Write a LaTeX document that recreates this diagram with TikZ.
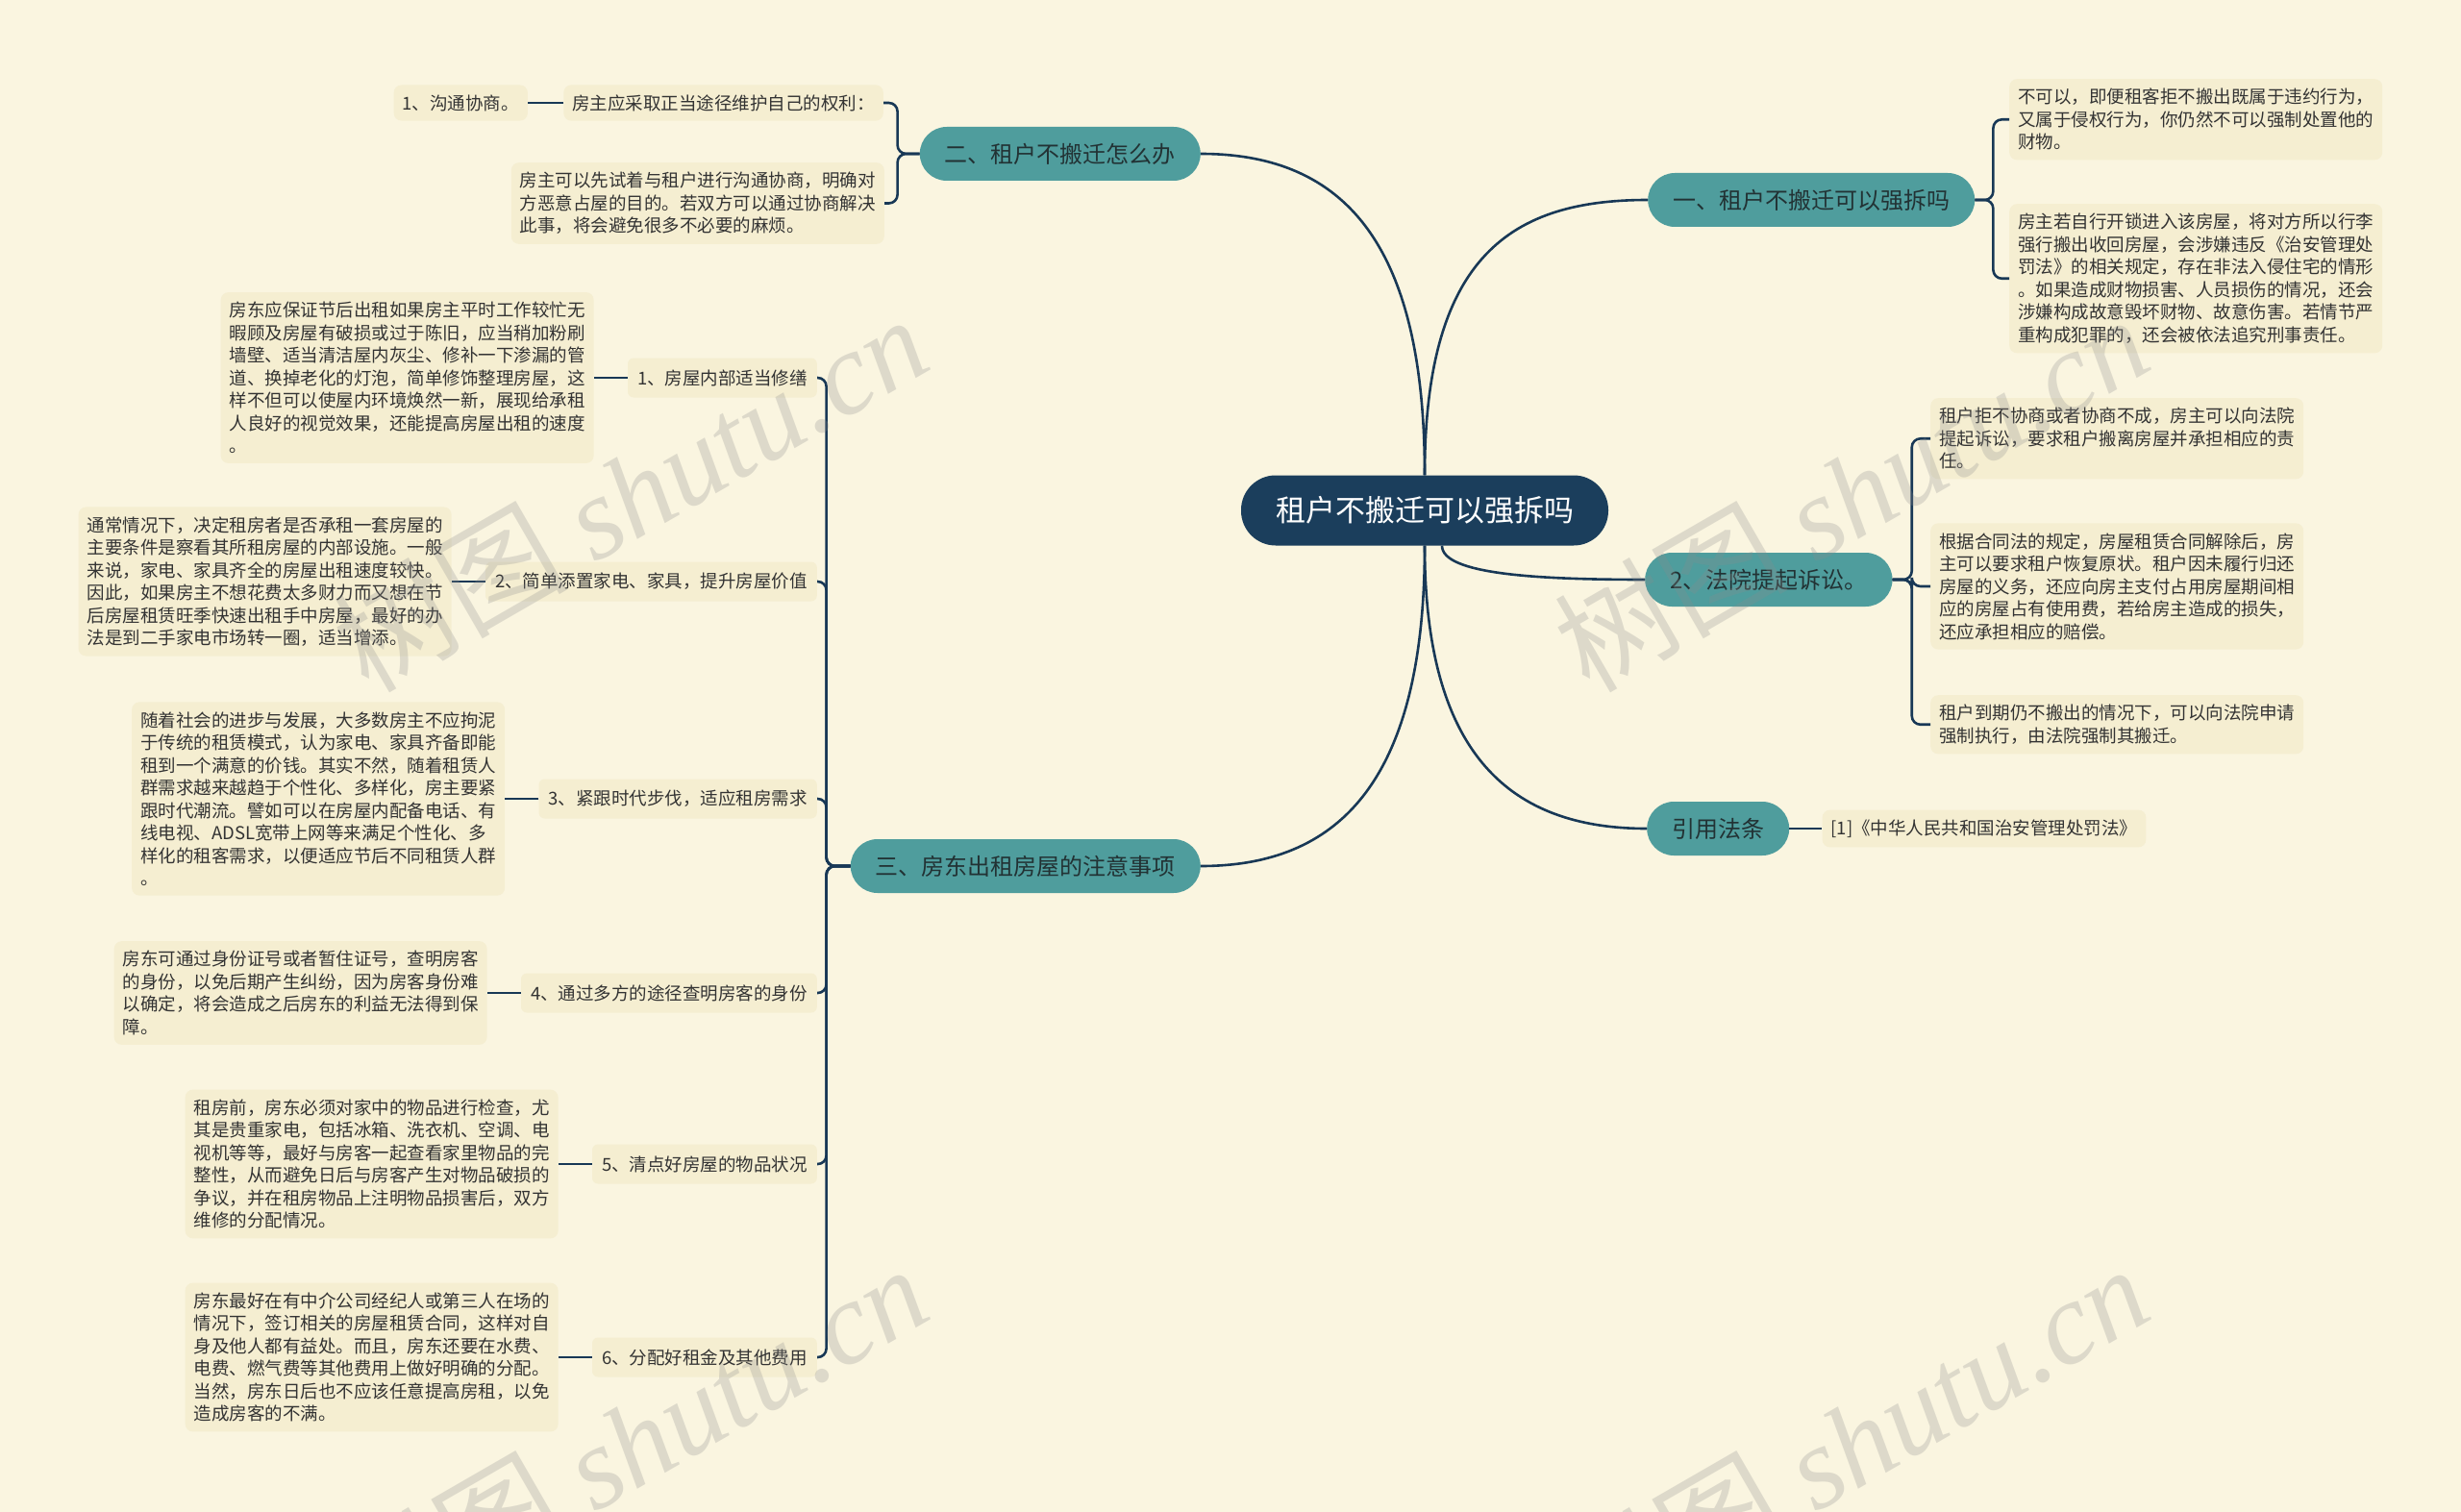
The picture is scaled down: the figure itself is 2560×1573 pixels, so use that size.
\documentclass[tikz,border=0pt]{standalone}
\usepackage{fontspec}
\setmainfont{Noto Sans CJK SC}
\newfontfamily\wmlatin{Liberation Serif}
\usetikzlibrary{positioning}
\definecolor{paper}{RGB}{250,245,224}
\definecolor{rootfill}{RGB}{27,62,92}
\definecolor{branchfill}{RGB}{79,157,157}
\definecolor{branchtext}{RGB}{34,50,52}
\definecolor{notefill}{RGB}{245,238,209}
\definecolor{notetext}{RGB}{51,51,51}
\definecolor{inkline}{RGB}{24,56,86}
\tikzset{
  root/.style   = {fill=rootfill, text=white, rounded corners=36pt,
                   font=\fontsize{31}{36}\selectfont, inner xsep=36pt,
                   minimum height=73pt},
  branch/.style = {fill=branchfill, text=branchtext, rounded corners=28pt,
                   font=\fontsize{24}{28}\selectfont, inner xsep=26pt,
                   minimum height=56pt},
  topic/.style  = {fill=notefill, text=notetext, rounded corners=6pt,
                   font=\fontsize{18.5}{23.5}\selectfont, inner xsep=10pt,
                   minimum height=41pt},
  note/.style   = {fill=notefill, text=notetext, rounded corners=8pt,
                   align=left, font=\fontsize{18.5}{23.5}\selectfont,
                   inner xsep=9pt, inner ysep=10pt},
  trunk/.style  = {draw=inkline, line width=2.6pt},
  link/.style   = {draw=inkline, line width=2.6pt, rounded corners=9pt},
  stamp/.style  = {text=black!45, opacity=0.26, rotate=30,
                   font=\fontsize{122}{122}\selectfont},
}
\begin{document}
\begin{tikzpicture}[x=1pt, y=1pt, node distance=35pt]
  \useasboundingbox (0,0) rectangle (2560,-1573);
  \fill[paper] (0,0) rectangle (2560,-1573);

  \node[root]                       (root) at (1482,-531) {租户不搬迁可以强拆吗};
  \node[branch, anchor=west]        (b1)   at (1714,-208) {一、租户不搬迁可以强拆吗};
  \node[branch, anchor=east]        (b2)   at (1249,-160) {二、租户不搬迁怎么办};
  \node[branch, anchor=east]        (b3)   at (1249,-901) {三、房东出租房屋的注意事项};
  \node[branch, anchor=west]        (b4)   at (1711,-603) {2、法院提起诉讼。};
  \node[branch, anchor=west]        (law)  at (1713,-862) {引用法条};

  \node[note, anchor=north west] (n1a) at (2090,-82)
    {不可以，即便租客拒不搬出既属于违约行为，\\又属于侵权行为，你仍然不可以强制处置他的\\财物。};
  \node[note, anchor=north west] (n1b) at (2090,-212)
    {房主若自行开锁进入该房屋，将对方所以行李\\强行搬出收回房屋，会涉嫌违反《治安管理处\\罚法》的相关规定，存在非法入侵住宅的情形\\。如果造成财物损害、人员损伤的情况，还会\\涉嫌构成故意毁坏财物、故意伤害。若情节严\\重构成犯罪的，还会被依法追究刑事责任。};
  \node[note, anchor=north west] (n2a) at (2008,-414)
    {租户拒不协商或者协商不成，房主可以向法院\\提起诉讼，要求租户搬离房屋并承担相应的责\\任。};
  \node[note, anchor=west]       (n2b) at (2008,-610)
    {根据合同法的规定，房屋租赁合同解除后，房\\主可以要求租户恢复原状。租户因未履行归还\\房屋的义务，还应向房主支付占用房屋期间相\\应的房屋占有使用费，若给房主造成的损失，\\还应承担相应的赔偿。};
  \node[note, anchor=north west] (n2c) at (2008,-723)
    {租户到期仍不搬出的情况下，可以向法院申请\\强制执行，由法院强制其搬迁。};
  \node[note, right=34pt of law] (lawnote) {[1]《中华人民共和国治安管理处罚法》};

  \node[note, anchor=east]       (own)  at (919,-107) {房主应采取正当途径维护自己的权利：};
  \node[note, left=37pt of own]  (talk) {1、沟通协商。};
  \node[note, anchor=north east] (ask)  at (920,-169)
    {房主可以先试着与租户进行沟通协商，明确对\\方恶意占屋的目的。若双方可以通过协商解决\\此事，将会避免很多不必要的麻烦。};

  \node[topic, anchor=east] (t1) at (850,-393)  {1、房屋内部适当修缮};
  \node[topic, anchor=east] (t2) at (850,-605)  {2、简单添置家电、家具，提升房屋价值};
  \node[topic, anchor=east] (t3) at (850,-831)  {3、紧跟时代步伐，适应租房需求};
  \node[topic, anchor=east] (t4) at (850,-1033) {4、通过多方的途径查明房客的身份};
  \node[topic, anchor=east] (t5) at (850,-1211) {5、清点好房屋的物品状况};
  \node[topic, anchor=east] (t6) at (850,-1412) {6、分配好租金及其他费用};

  \node[note, left=of t1] (d1)
    {房东应保证节后出租如果房主平时工作较忙无\\暇顾及房屋有破损或过于陈旧，应当稍加粉刷\\墙壁、适当清洁屋内灰尘、修补一下渗漏的管\\道、换掉老化的灯泡，简单修饰整理房屋，这\\样不但可以使屋内环境焕然一新，展现给承租\\人良好的视觉效果，还能提高房屋出租的速度\\。};
  \node[note, left=of t2] (d2)
    {通常情况下，决定租房者是否承租一套房屋的\\主要条件是察看其所租房屋的内部设施。一般\\来说，家电、家具齐全的房屋出租速度较快。\\因此，如果房主不想花费太多财力而又想在节\\后房屋租赁旺季快速出租手中房屋，最好的办\\法是到二手家电市场转一圈，适当增添。};
  \node[note, left=of t3] (d3)
    {随着社会的进步与发展，大多数房主不应拘泥\\于传统的租赁模式，认为家电、家具齐备即能\\租到一个满意的价钱。其实不然，随着租赁人\\群需求越来越趋于个性化、多样化，房主要紧\\跟时代潮流。譬如可以在房屋内配备电话、有\\线电视、ADSL宽带上网等来满足个性化、多\\样化的租客需求，以便适应节后不同租赁人群\\。};
  \node[note, left=of t4] (d4)
    {房东可通过身份证号或者暂住证号，查明房客\\的身份，以免后期产生纠纷，因为房客身份难\\以确定，将会造成之后房东的利益无法得到保\\障。};
  \node[note, left=of t5] (d5)
    {租房前，房东必须对家中的物品进行检查，尤\\其是贵重家电，包括冰箱、洗衣机、空调、电\\视机等等，最好与房客一起查看家里物品的完\\整性，从而避免日后与房客产生对物品破损的\\争议，并在租房物品上注明物品损害后，双方\\维修的分配情况。};
  \node[note, left=of t6] (d6)
    {房东最好在有中介公司经纪人或第三人在场的\\情况下，签订相关的房屋租赁合同，这样对自\\身及他人都有益处。而且，房东还要在水费、\\电费、燃气费等其他费用上做好明确的分配。\\当然，房东日后也不应该任意提高房租，以免\\造成房客的不满。};

  \draw[trunk] (root.north) .. controls +(0,240) and +(150,0) .. (b2.east);
  \draw[trunk] (root.north) .. controls +(0,230) and +(-140,0) .. (b1.west);
  \draw[trunk] (root.south) .. controls +(0,-250) and +(140,0) .. (b3.east);
  \draw[trunk] (root.south) .. controls +(0,-220) and +(-140,0) .. (law.west);
  \draw[trunk] ([xshift=18pt]root.south) .. controls +(0,-30) and +(-110,0) .. (b4.west);

  \draw[link] (b1.east) -- ++(19,0) |- (n1a.west);
  \draw[link] (b1.east) -- ++(19,0) |- (n1b.west);
  \draw[link] (b4.east) -- ++(20,0) |- (n2a.west);
  \draw[link] (b4.east) -- ++(20,0) |- (n2b.west);
  \draw[link] (b4.east) -- ++(20,0) |- (n2c.west);
  \draw[link] (law) -- (lawnote);
  \draw[link] (b2.west) -- ++(-23,0) |- (own.east);
  \draw[link] (b2.west) -- ++(-23,0) |- (ask.east);
  \draw[link] (own) -- (talk);
  \foreach \i in {1,...,6} {
    \draw[link] (b3.west) -- ++(-25,0) |- (t\i.east);
    \draw[link] (t\i) -- (d\i);
  }

  \node[stamp] (wm1) at (655,-512)   {树图 {\wmlatin\itshape shutu.cn}};
  \node[stamp] (wm2) at (1925,-512)  {树图 {\wmlatin\itshape shutu.cn}};
  \node[stamp] (wm3) at (655,-1500)  {树图 {\wmlatin\itshape shutu.cn}};
  \node[stamp] (wm4) at (1925,-1500) {树图 {\wmlatin\itshape shutu.cn}};
\end{tikzpicture}
\end{document}
